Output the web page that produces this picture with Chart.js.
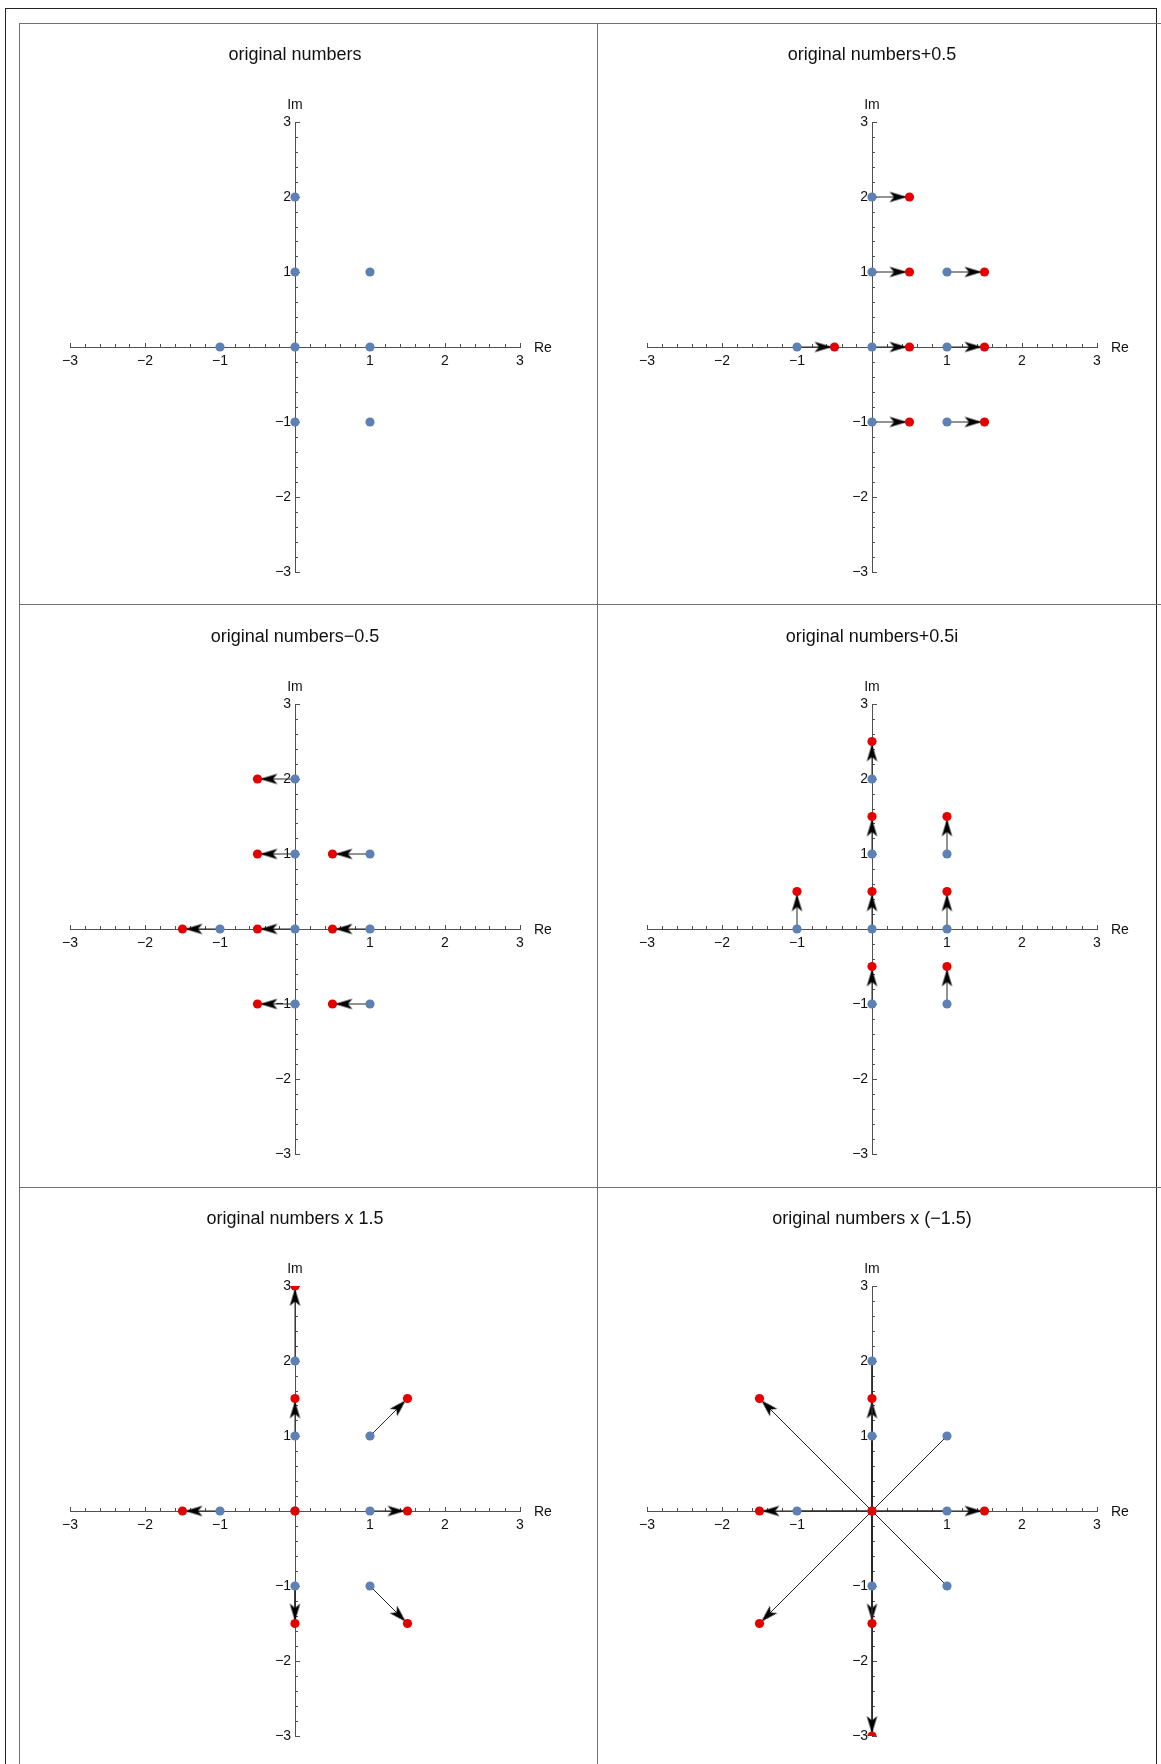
<!DOCTYPE html>
<html>
<head>
<meta charset="utf-8">
<script src="https://cdn.jsdelivr.net/npm/chart.js@4.4.1/dist/chart.umd.min.js"></script>
<style>
  html, body { margin: 0; padding: 0; background: #fff; }
  body { position: relative; width: 1161px; height: 1764px; overflow: hidden; }
  .frame { position: absolute; left: 5px; top: 8px; width: 1150px; height: 1800px;
           border: 1px solid #222; border-bottom: none; }
  .hl { position: absolute; height: 1px; background: #707070; }
  .vl { position: absolute; width: 1px; background: #707070; }
  canvas { position: absolute; }
</style>
</head>
<body>
<div class="frame"></div>
<div class="hl" style="left:19px; top:23px; width:1142px;"></div>
<div class="hl" style="left:19px; top:604px; width:1142px;"></div>
<div class="hl" style="left:19px; top:1187px; width:1142px;"></div>
<div class="vl" style="left:19px; top:23px; height:1741px;"></div>
<div class="vl" style="left:597px; top:23px; height:1741px;"></div>
<script>
// ---------------- data ----------------
const origRe       = [0, 0, 1, -1, 0, 1, 0, 1];
const origIm       = [2, 1, 1, 0, 0, 0, -1, -1];

const plusHalfRe   = [0.5, 0.5, 1.5, -0.5, 0.5, 1.5, 0.5, 1.5];
const plusHalfIm   = [2, 1, 1, 0, 0, 0, -1, -1];

const minusHalfRe  = [-0.5, -0.5, 0.5, -1.5, -0.5, 0.5, -0.5, 0.5];
const minusHalfIm  = [2, 1, 1, 0, 0, 0, -1, -1];

const plusHalfIRe  = [0, 0, 1, -1, 0, 1, 0, 1];
const plusHalfIIm  = [2.5, 1.5, 1.5, 0.5, 0.5, 0.5, -0.5, -0.5];

const times15Re    = [0, 0, 1.5, -1.5, 0, 1.5, 0, 1.5];
const times15Im    = [3, 1.5, 1.5, 0, 0, 0, -1.5, -1.5];

const timesNeg15Re = [0, 0, -1.5, 1.5, 0, -1.5, 0, -1.5];
const timesNeg15Im = [-3, -1.5, -1.5, 0, 0, 0, 1.5, 1.5];

const panelTitles = [
  'original numbers',
  'original numbers+0.5',
  'original numbers\u22120.5',
  'original numbers+0.5i',
  'original numbers x 1.5',
  'original numbers x (\u22121.5)'
];
const majorTicks = [-3, -2, -1, 0, 1, 2, 3];
const axisMin = -3, axisMax = 3, minorStep = 0.2;
const reLabel = 'Re', imLabel = 'Im';

// ---------------- style ----------------
const FONT = "'Liberation Sans', Arial, Helvetica, sans-serif";
const AXIS = '#505050';
const BLUE = '#5E81B5';
const RED = '#E40000';
const ARROW = '#262626';

Chart.defaults.font.family = FONT;
Chart.defaults.animation = false;

const minorTicks = [];
for (let k = 0; axisMin + k * minorStep <= axisMax + 1e-9; k++) {
  minorTicks.push(Math.round((axisMin + k * minorStep) * 10) / 10);
}

function fmt(v) {
  if (v === 0) return '';
  return v < 0 ? '\u2212' + Math.abs(v) : String(v);
}

// arrowhead glyph: tip sits just before the end point (partly hidden by the red dot)
function makeArrowHead() {
  const c = document.createElement('canvas');
  c.width = 44; c.height = 13;
  const g = c.getContext('2d');
  g.fillStyle = '#000';
  g.beginPath();
  g.moveTo(19.5, 6.5);
  g.lineTo(2, 1.2);
  g.lineTo(6.5, 6.5);
  g.lineTo(2, 11.8);
  g.closePath();
  g.fill();
  return c;
}
const arrowHead = makeArrowHead();

function scaleCfg(axis, posKey, tickValues, tickLen, showLabels, showBorder) {
  return {
    type: 'linear',
    axis: axis,
    min: axisMin,
    max: axisMax,
    position: { [posKey]: 0 },
    afterBuildTicks: (s) => { s.ticks = tickValues.map(v => ({ value: v })); },
    grid: { drawOnChartArea: false, drawTicks: true, tickLength: tickLen,
            tickColor: AXIS, lineWidth: 1, tickWidth: 1 },
    border: { display: showBorder, color: AXIS, width: 1 },
    ticks: {
      display: showLabels,
      autoSkip: false,
      maxRotation: 0,
      minRotation: 0,
      padding: 11,
      color: '#111',
      font: { size: 14, family: FONT },
      callback: axis === 'x' ? (v) => fmt(v) : (v) => (v === 0 ? '' : fmt(v) + ' ')
    }
  };
}

const axisNames = {
  id: 'axisNames',
  afterDraw(chart) {
    const { ctx } = chart;
    const xs = chart.scales.x, ys = chart.scales.y;
    ctx.save();
    ctx.font = '14px ' + FONT;
    ctx.fillStyle = '#111';
    ctx.textBaseline = 'middle';
    ctx.textAlign = 'left';
    ctx.fillText(reLabel, xs.getPixelForValue(axisMax) + 14, ys.getPixelForValue(0) + 1);
    ctx.textAlign = 'center';
    ctx.fillText(imLabel, xs.getPixelForValue(0), ys.getPixelForValue(axisMax) - 17);
    ctx.restore();
  }
};

function arrowRotation(ctx) {
  if (ctx.type !== 'data') return 0;
  const d = ctx.dataset.data;
  const xs = ctx.chart.scales.x, ys = ctx.chart.scales.y;
  const dx = xs.getPixelForValue(d[1].x) - xs.getPixelForValue(d[0].x);
  const dy = ys.getPixelForValue(d[1].y) - ys.getPixelForValue(d[0].y);
  return Math.atan2(dy, dx) * 180 / Math.PI;
}

function buildDatasets(toRe, toIm) {
  const sets = [];
  sets.push({
    label: 'original',
    data: origRe.map((x, i) => ({ x: x, y: origIm[i] })),
    pointRadius: 4.6,
    pointBackgroundColor: BLUE,
    pointBorderWidth: 0,
    showLine: false,
    clip: 0,
    order: 1
  });
  if (toRe) {
    sets.push({
      label: 'moved',
      data: toRe.map((x, i) => ({ x: x, y: toIm[i] })),
      pointRadius: 4.6,
      pointBackgroundColor: RED,
      pointBorderWidth: 0,
      showLine: false,
      clip: 0,
      order: 0
    });
    origRe.forEach((x0, i) => {
      const y0 = origIm[i], x1 = toRe[i], y1 = toIm[i];
      if (x0 === x1 && y0 === y1) return;
      sets.push({
        label: 'arrow' + i,
        data: [{ x: x0, y: y0 }, { x: x1, y: y1 }],
        showLine: true,
        borderColor: ARROW,
        borderWidth: 1,
        tension: 0,
        pointRadius: (c) => (c.dataIndex === 1 ? 5 : 0),
        pointStyle: (c) => (c.dataIndex === 1 ? arrowHead : 'circle'),
        rotation: arrowRotation,
        clip: 0,
        order: 2
      });
    });
  }
  return sets;
}

const panels = [
  [null, null],
  [plusHalfRe, plusHalfIm],
  [minusHalfRe, minusHalfIm],
  [plusHalfIRe, plusHalfIIm],
  [times15Re, times15Im],
  [timesNeg15Re, timesNeg15Im]
];

const chartLefts = [70, 647];
const PAD = 45;
const W = 450 + 2 * PAD;
const H = 91 + 450 + 30;

panels.forEach((p, idx) => {
  const r = Math.floor(idx / 2), c = idx % 2;
  const chartTop = 122 + 582 * r;
  const cv = document.createElement('canvas');
  cv.width = W; cv.height = H;
  cv.style.width = W + 'px'; cv.style.height = H + 'px';
  cv.style.left = (chartLefts[c] - PAD) + 'px';
  cv.style.top = (chartTop - 91) + 'px';
  document.body.appendChild(cv);
  new Chart(cv, {
    type: 'scatter',
    data: { datasets: buildDatasets(p[0], p[1]) },
    options: {
      responsive: false,
      animation: false,
      events: [],
      layout: { padding: { left: PAD, right: PAD, top: 0, bottom: 30 } },
      plugins: {
        legend: { display: false },
        tooltip: { enabled: false },
        title: {
          display: true,
          text: panelTitles[idx],
          color: '#111',
          font: { size: 18, weight: 'normal', family: FONT, lineHeight: 1 },
          padding: { top: 15, bottom: 58 }
        }
      },
      scales: {
        x: scaleCfg('x', 'y', majorTicks, -5, true, true),
        xm: scaleCfg('x', 'y', minorTicks, -3, false, false),
        y: scaleCfg('y', 'x', majorTicks, -5, true, true),
        ym: scaleCfg('y', 'x', minorTicks, -3, false, false)
      }
    },
    plugins: [axisNames]
  });
});
</script>
</body>
</html>
